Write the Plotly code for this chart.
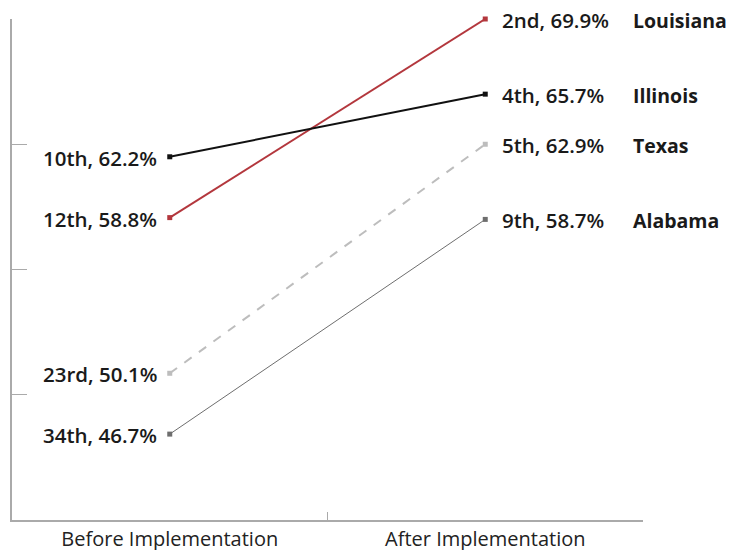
import plotly.graph_objects as go

phases = ["Before Implementation", "After Implementation"]
states = ["Louisiana", "Illinois", "Texas", "Alabama"]
before_pct = [58.8, 62.2, 50.1, 46.7]
after_pct = [69.9, 65.7, 62.9, 58.7]
before_rank = ["12th", "10th", "23rd", "34th"]
after_rank = ["2nd", "4th", "5th", "9th"]

colors = ["#b3373d", "#111111", "#bdbdbd", "#6e6e6e"]
widths = [2, 2, 2, 1]
dashes = ["solid", "solid", "dash", "solid"]

y_ticks = [41.9, 48.9, 55.9, 62.9, 69.9]

fig = go.Figure()
for i, s in enumerate(states):
    fig.add_trace(go.Scatter(
        x=phases, y=[before_pct[i], after_pct[i]],
        mode="lines+markers", name=s,
        line=dict(color=colors[i], width=widths[i], dash=dashes[i]),
        marker=dict(symbol="square", size=5, color=colors[i]),
        hoverinfo="skip", cliponaxis=False,
    ))

FAM = "'Open Sans', sans-serif"
lab_font = dict(family=FAM, size=20.5, color="#1a1a1a", weight=600)
annotations = []
for i, s in enumerate(states):
    annotations.append(dict(
        x=phases[0], y=before_pct[i], xref="x", yref="y",
        text=f"{before_rank[i]}, {before_pct[i]:.1f}%",
        showarrow=False, xanchor="right", yanchor="middle", xshift=-11, yshift=-1,
        font=lab_font))
    annotations.append(dict(
        x=phases[1], y=after_pct[i], xref="x", yref="y",
        text=f"{after_rank[i]}, {after_pct[i]:.1f}%",
        showarrow=False, xanchor="left", yanchor="middle", xshift=15, yshift=-1,
        font=lab_font))
    annotations.append(dict(
        x=phases[1], y=after_pct[i], xref="x", yref="y",
        text=s,
        showarrow=False, xanchor="left", yanchor="middle", xshift=146, yshift=-1,
        font=dict(family=FAM, size=19.5, color="#1a1a1a", weight="bold")))

fig.update_layout(
    width=731, height=550,
    margin=dict(l=12, r=88, t=19, b=30, autoexpand=False),
    plot_bgcolor="white", paper_bgcolor="white",
    showlegend=False,
    annotations=annotations,
    xaxis=dict(
        type="category", range=[-0.5, 1.5], automargin=False,
        showline=True, linecolor="#aaaaaa", linewidth=1.5,
        ticks="inside", ticklen=8, tickcolor="#aaaaaa", tickwidth=1,
        tickson="boundaries", showgrid=False, zeroline=False,
        tickfont=dict(family=FAM, size=20, color="#222222"),
    ),
    yaxis=dict(
        range=[y_ticks[0], y_ticks[-1]], automargin=False,
        showline=True, linecolor="#aaaaaa", linewidth=1.5,
        tickvals=y_ticks, ticks="inside", ticklen=15, tickcolor="#aaaaaa", tickwidth=1,
        showticklabels=False, showgrid=False, zeroline=False,
    ),
)

fig.write_html("out.html", config={"displayModeBar": False},
               post_script="document.body.style.margin='0';document.body.style.overflow='hidden';")
